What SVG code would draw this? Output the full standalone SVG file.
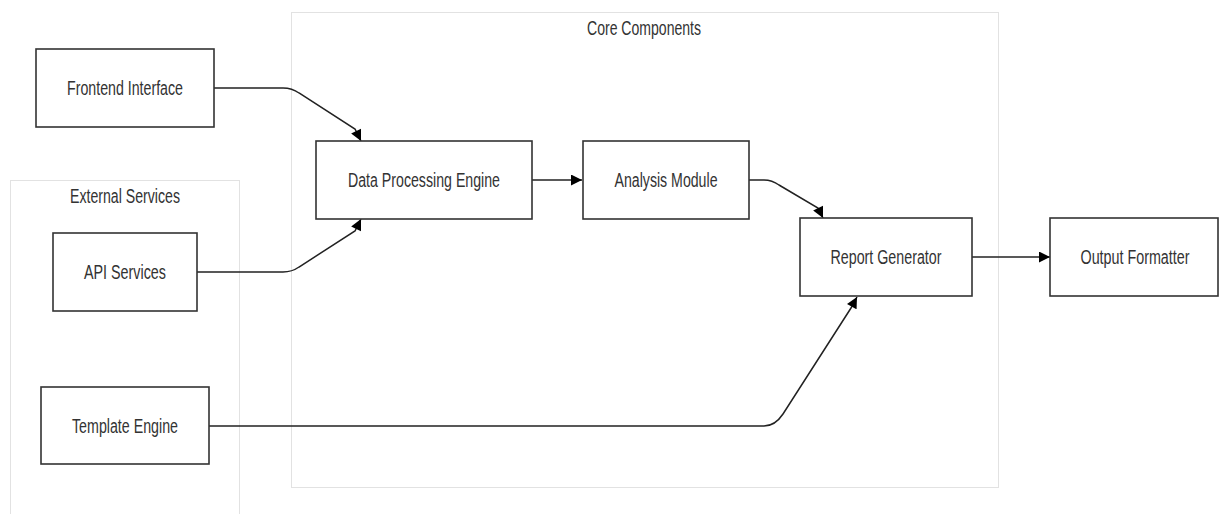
<svg xmlns="http://www.w3.org/2000/svg" width="1220" height="514" viewBox="0 0 1220 514">
<style>
.cluster{fill:none;stroke:#e2e2e2;stroke-width:1}
.node{fill:#fff;stroke:#333;stroke-width:1.6}
.lbl{font-family:"Liberation Sans",Arial,sans-serif;font-size:19.5px;fill:#333;text-anchor:middle}
.edge{fill:none;stroke:#222;stroke-width:1.5}
</style>
<defs>
<marker id="arr" viewBox="0 0 10 10" refX="10" refY="5" markerWidth="12" markerHeight="11" markerUnits="userSpaceOnUse" orient="auto">
<path d="M0,0 L10,5 L0,10 z" fill="#000"/>
</marker>
</defs>
<rect width="1220" height="514" fill="#fff"/>
<g id="cluster_external">
<rect class="cluster" x="10.5" y="180.5" width="229" height="340"/>
<text class="lbl" x="125" y="203" textLength="110" lengthAdjust="spacingAndGlyphs">External Services</text>
</g>
<g id="cluster_core">
<rect class="cluster" x="291.5" y="12.5" width="707" height="475"/>
<text class="lbl" x="644" y="35" textLength="114" lengthAdjust="spacingAndGlyphs">Core Components</text>
</g>
<g id="connectors">
<path class="edge" marker-end="url(#arr)" d="M214,88 H283 Q292,88 299,93 L355,129 L361,141"/>
<path class="edge" marker-end="url(#arr)" d="M197,272 H283 Q292,272 299,267 L355,231 L361,219"/>
<path class="edge" marker-end="url(#arr)" d="M532,180 H582"/>
<path class="edge" marker-end="url(#arr)" d="M749,180 H764 Q772,180 779,185 L818,208 L823,218"/>
<path class="edge" marker-end="url(#arr)" d="M972,257 H1050"/>
<path class="edge" marker-end="url(#arr)" d="M209,426 H764 Q775,426 783,414 L851,308 L857,297"/>
</g>
<g id="frontend">
<rect class="node" x="36" y="49" width="178" height="78"/>
<text class="lbl" x="125" y="95" textLength="116" lengthAdjust="spacingAndGlyphs">Frontend Interface</text>
</g>
<g id="api">
<rect class="node" x="53" y="233" width="144" height="78"/>
<text class="lbl" x="125" y="279" textLength="82" lengthAdjust="spacingAndGlyphs">API Services</text>
</g>
<g id="template">
<rect class="node" x="41" y="387" width="168" height="77"/>
<text class="lbl" x="125" y="433" textLength="106" lengthAdjust="spacingAndGlyphs">Template Engine</text>
</g>
<g id="dpe">
<rect class="node" x="316" y="141" width="216" height="78"/>
<text class="lbl" x="424" y="187" textLength="152" lengthAdjust="spacingAndGlyphs">Data Processing Engine</text>
</g>
<g id="analysis">
<rect class="node" x="583" y="141" width="166" height="78"/>
<text class="lbl" x="666" y="187" textLength="103" lengthAdjust="spacingAndGlyphs">Analysis Module</text>
</g>
<g id="report">
<rect class="node" x="800" y="218" width="172" height="78"/>
<text class="lbl" x="886" y="264" textLength="111" lengthAdjust="spacingAndGlyphs">Report Generator</text>
</g>
<g id="output">
<rect class="node" x="1050" y="218" width="168" height="78"/>
<text class="lbl" x="1135" y="264" textLength="109" lengthAdjust="spacingAndGlyphs">Output Formatter</text>
</g>
</svg>
